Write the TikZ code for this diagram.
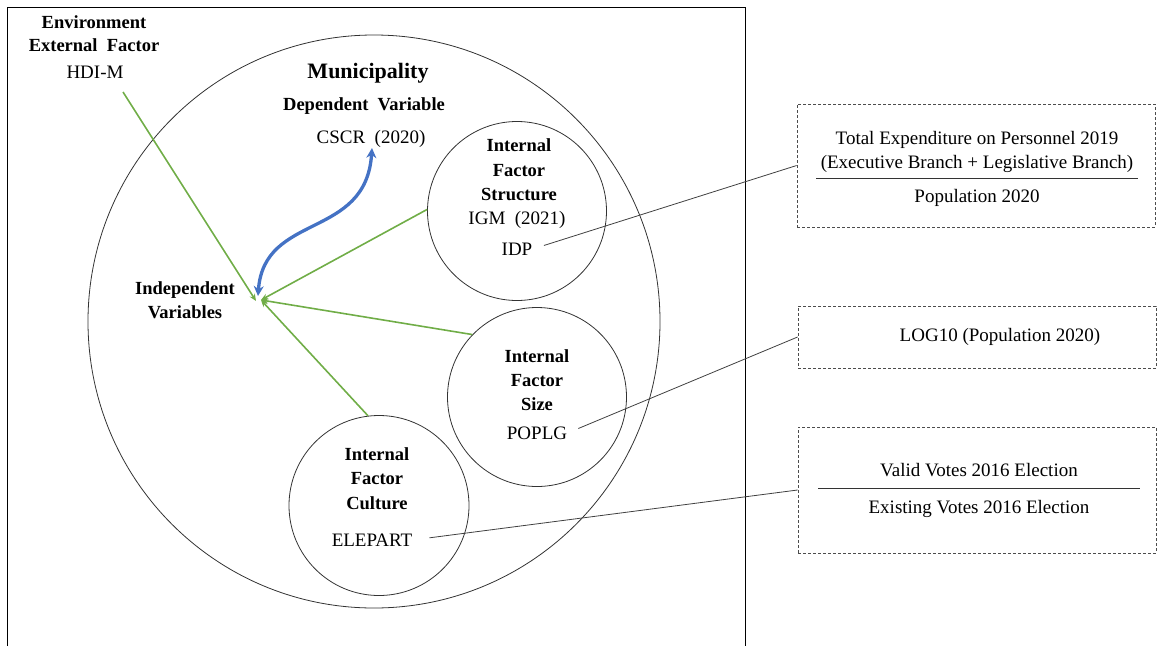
\documentclass[tikz,border=0pt]{standalone}
\usepackage{fontspec}
\setmainfont{Liberation Serif}
\usetikzlibrary{shapes.geometric,arrows.meta}
\definecolor{ggreen}{RGB}{112,173,71}
\definecolor{bblue}{RGB}{68,114,196}
\tikzset{
  reg/.style={font=\rmfamily\fontsize{19}{22}\selectfont, inner sep=0pt, anchor=mid, yshift=-4pt},
  bld/.style={font=\rmfamily\fontsize{18.5}{22}\selectfont\bfseries, inner sep=0pt, anchor=mid, yshift=-4pt},
  circ/.style={draw=black!80, line width=0.8pt, circle, inner sep=0pt},
  gline/.style={draw=ggreen, line width=1.6pt, -{Stealth[length=7pt,width=6pt]}},
  leader/.style={draw=black!75, line width=0.8pt, shorten <=12pt},
  dbox/.style={draw=black!70, dash pattern=on 3pt off 2pt, line width=0.8pt, rectangle, inner sep=0pt},
  frac/.style={draw=black!80, line width=0.8pt},
}
\begin{document}
\begin{tikzpicture}[x=1pt,y=-1pt]
\useasboundingbox (0,0) rectangle (1157,646);
\draw[line width=0.8pt] (7,646) -- (7,7) -- (745,7) -- (745,646);

% main ellipse and circles
\node[ellipse, draw=black!80, line width=0.8pt, inner sep=0pt, minimum width=572pt, minimum height=573pt] (big) at (374,321.5) {};
\node[circ, minimum size=179pt] (st) at (517,211) {};
\node[circ, minimum size=179pt] (sz) at (537,397) {};
\node[circ, minimum size=180pt] (cu) at (379,505.5) {};

% left texts
\node[bld] (env) at (94,22) {Environment};
\node[bld] (ext) at (94,45) {External\ \ Factor};
\node[reg] (hdi) at (95,72) {HDI-M};
\node[bld, font=\rmfamily\fontsize{22}{26}\selectfont\bfseries] (mun) at (368,72) {Municipality};
\node[bld] (dep) at (364,104) {Dependent\ \ Variable};
\node[reg] (cscr) at (371,137) {CSCR\ \ (2020)};
\node[bld] (ind1) at (185,288) {Independent};
\node[bld] (ind2) at (185,312) {Variables};

% structure circle
\node[bld] (st1) at (519,145) {Internal};
\node[bld] (st2) at (519,170) {Factor};
\node[bld] (st3) at (519,194) {Structure};
\node[reg] (igm) at (517,218) {IGM\ \ (2021)};
\node[reg] (idp) at (517,249) {IDP};

% size circle
\node[bld] (sz1) at (537,356) {Internal};
\node[bld] (sz2) at (537,380) {Factor};
\node[bld] (sz3) at (537,404) {Size};
\node[reg] (poplg) at (537,433) {POPLG};

% culture circle
\node[bld] (cu1) at (377,454) {Internal};
\node[bld] (cu2) at (377,478) {Factor};
\node[bld] (cu3) at (377,503) {Culture};
\node[reg] (ele) at (372,540) {ELEPART};

% green arrows
\coordinate (hdistart) at (123,92);
\coordinate (ivA) at (256,301);
\coordinate (iv) at (261,300);
\draw[gline] (hdistart) -- (ivA);
\draw[gline] (st.179) -- (iv);
\draw[gline] (sz.136) -- (iv);
\draw[gline] (cu.97) -- (iv);

% blue double arrow
\coordinate (bl) at (258,296);
\coordinate (bu) at (372,148);
\draw[bblue, line width=3.3pt, {Stealth[length=10pt,width=10pt]}-{Stealth[length=10pt,width=10pt]}]
  (bl) .. controls (264,212) and (366,240) .. (bu);

% dashed boxes
\node[dbox, minimum width=358pt, minimum height=123pt] (b1) at (976,165.5) {};
\node[reg] (b1a) at (977,138) {Total Expenditure\ on Personnel 2019};
\node[reg] (b1b) at (977,162) {(Executive\ Branch + Legislative\ Branch)};
\draw[frac] (816,178) -- (1138,178);
\node[reg] (b1c) at (977,196) {Population 2020};

\node[dbox, minimum width=358pt, minimum height=62pt] (b2) at (977,337) {};
\node[reg] (b2a) at (1000,335) {LOG10 (Population 2020)};

\node[dbox, minimum width=358pt, minimum height=126pt] (b3) at (977,490) {};
\node[reg] (b3a) at (979,470) {Valid Votes 2016 Election};
\draw[frac] (818,488) -- (1140,488);
\node[reg] (b3b) at (979,507) {Existing\ Votes 2016 Election};

% leaders
\draw[leader] (idp.east) -- (b1.west);
\draw[leader] (poplg.east) -- (b2.west);
\draw[leader, shorten <=17pt] (ele.east) -- (b3.west);
\end{tikzpicture}
\end{document}
